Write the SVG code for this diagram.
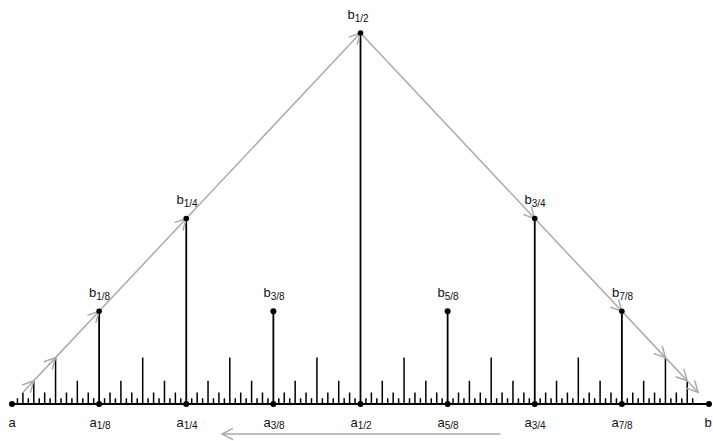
<svg xmlns="http://www.w3.org/2000/svg" width="713" height="441" viewBox="0 0 713 441">
<style>
.bg{fill:#ffffff}
.tick{fill:none;stroke:#000;stroke-width:1.5}
.stem{fill:none;stroke:#000;stroke-width:1.8}
.dot{fill:#000}
.lbl{font-family:"Liberation Sans",Arial,sans-serif;font-size:13px;fill:#111;text-anchor:middle}
.sub{font-size:10px}
.conn{fill:none;stroke:#aaaaaa;stroke-width:1.5}
</style>
<defs>
<marker id="chev" markerUnits="userSpaceOnUse" viewBox="-13 -8 15 16" markerWidth="15" markerHeight="16" refX="0" refY="0" orient="auto" overflow="visible">
<path d="M-11,-5.7 L0,0 L-11,5.7" fill="none" stroke="#aaaaaa" stroke-width="1.5"/>
</marker>
</defs>
<rect class="bg" x="0" y="0" width="713" height="441"/>
<g id="ruler">
<path class="stem" d="M12 404H709"/>
<path class="tick" d="M17.4453 404v-5.8m10.8906 5.8v-5.8m10.8906 5.8v-5.8m10.8906 5.8v-5.8m10.8906 5.8v-5.8m10.8906 5.8v-5.8m10.8906 5.8v-5.8m10.8906 5.8v-5.8m10.8906 5.8v-5.8m10.8906 5.8v-5.8m10.8906 5.8v-5.8m10.8906 5.8v-5.8m10.8906 5.8v-5.8m10.8906 5.8v-5.8m10.8906 5.8v-5.8m10.8906 5.8v-5.8m10.8906 5.8v-5.8m10.8906 5.8v-5.8m10.8906 5.8v-5.8m10.8906 5.8v-5.8m10.8906 5.8v-5.8m10.8906 5.8v-5.8m10.8906 5.8v-5.8m10.8906 5.8v-5.8m10.8906 5.8v-5.8m10.8906 5.8v-5.8m10.8906 5.8v-5.8m10.8906 5.8v-5.8m10.8906 5.8v-5.8m10.8906 5.8v-5.8m10.8906 5.8v-5.8m10.8906 5.8v-5.8m10.8906 5.8v-5.8m10.8906 5.8v-5.8m10.8906 5.8v-5.8m10.8906 5.8v-5.8m10.8906 5.8v-5.8m10.8906 5.8v-5.8m10.8906 5.8v-5.8m10.8906 5.8v-5.8m10.8906 5.8v-5.8m10.8906 5.8v-5.8m10.8906 5.8v-5.8m10.8906 5.8v-5.8m10.8906 5.8v-5.8m10.8906 5.8v-5.8m10.8906 5.8v-5.8m10.8906 5.8v-5.8m10.8906 5.8v-5.8m10.8906 5.8v-5.8m10.8906 5.8v-5.8m10.8906 5.8v-5.8m10.8906 5.8v-5.8m10.8906 5.8v-5.8m10.8906 5.8v-5.8m10.8906 5.8v-5.8m10.8906 5.8v-5.8m10.8906 5.8v-5.8m10.8906 5.8v-5.8m10.8906 5.8v-5.8m10.8906 5.8v-5.8m10.8906 5.8v-5.8m10.8906 5.8v-5.8"/>
<path class="tick" d="M22.8906 404v-11.6m21.7813 11.6v-11.6m21.7813 11.6v-11.6m21.7813 11.6v-11.6m21.7813 11.6v-11.6m21.7813 11.6v-11.6m21.7813 11.6v-11.6m21.7813 11.6v-11.6m21.7813 11.6v-11.6m21.7813 11.6v-11.6m21.7813 11.6v-11.6m21.7813 11.6v-11.6m21.7813 11.6v-11.6m21.7813 11.6v-11.6m21.7813 11.6v-11.6m21.7813 11.6v-11.6m21.7813 11.6v-11.6m21.7813 11.6v-11.6m21.7813 11.6v-11.6m21.7813 11.6v-11.6m21.7813 11.6v-11.6m21.7813 11.6v-11.6m21.7813 11.6v-11.6m21.7813 11.6v-11.6m21.7813 11.6v-11.6m21.7813 11.6v-11.6m21.7813 11.6v-11.6m21.7813 11.6v-11.6m21.7813 11.6v-11.6m21.7813 11.6v-11.6m21.7813 11.6v-11.6"/>
<path class="tick" d="M33.7813 404v-23.19m43.5625 23.19v-23.19m43.5625 23.19v-23.19m43.5625 23.19v-23.19m43.5625 23.19v-23.19m43.5625 23.19v-23.19m43.5625 23.19v-23.19m43.5625 23.19v-23.19m43.5625 23.19v-23.19m43.5625 23.19v-23.19m43.5625 23.19v-23.19m43.5625 23.19v-23.19m43.5625 23.19v-23.19m43.5625 23.19v-23.19m43.5625 23.19v-23.19m43.5625 23.19v-23.19"/>
<path class="tick" d="M55.5625 404v-46.38m87.125 46.38v-46.38m87.125 46.38v-46.38m87.125 46.38v-46.38m87.125 46.38v-46.38m87.125 46.38v-46.38m87.125 46.38v-46.38m87.125 46.38v-46.38"/>
<path class="stem" d="M99.125 404V311.25M273.375 404V311.25M447.625 404V311.25M621.875 404V311.25M186.25 404V218.5M534.75 404V218.5M360.5 404V33"/>
</g>
<g id="connectors">
<polyline class="conn" points="22.89,392.41 33.78,380.81 55.56,357.63 99.13,311.25 186.25,218.5 360.5,33" marker-mid="url(#chev)" marker-end="url(#chev)"/>
<polyline class="conn" points="360.5,33 534.75,218.5 621.88,311.25 665.44,357.63 687.22,380.81 698.11,392.41" marker-mid="url(#chev)" marker-end="url(#chev)"/>
<line class="conn" x1="500.5" y1="434" x2="222" y2="434" marker-end="url(#chev)"/>
</g>
<g id="node-a"><circle class="dot" cx="12" cy="404" r="3"/><text class="lbl" x="12" y="427">a</text></g>
<g id="node-a18"><circle class="dot" cx="99.125" cy="404" r="3"/><text class="lbl" x="100" y="427">a<tspan class="sub" dy="2">1/8</tspan></text></g>
<g id="node-a14"><circle class="dot" cx="186.25" cy="404" r="3"/><text class="lbl" x="187" y="427">a<tspan class="sub" dy="2">1/4</tspan></text></g>
<g id="node-a38"><circle class="dot" cx="273.375" cy="404" r="3"/><text class="lbl" x="274" y="427">a<tspan class="sub" dy="2">3/8</tspan></text></g>
<g id="node-a12"><circle class="dot" cx="360.5" cy="404" r="3"/><text class="lbl" x="361" y="427">a<tspan class="sub" dy="2">1/2</tspan></text></g>
<g id="node-a58"><circle class="dot" cx="447.625" cy="404" r="3"/><text class="lbl" x="448" y="427">a<tspan class="sub" dy="2">5/8</tspan></text></g>
<g id="node-a34"><circle class="dot" cx="534.75" cy="404" r="3"/><text class="lbl" x="535" y="427">a<tspan class="sub" dy="2">3/4</tspan></text></g>
<g id="node-a78"><circle class="dot" cx="621.875" cy="404" r="3"/><text class="lbl" x="622" y="427">a<tspan class="sub" dy="2">7/8</tspan></text></g>
<g id="node-b"><circle class="dot" cx="709" cy="404" r="3"/><text class="lbl" x="708" y="427">b</text></g>
<g id="node-b12"><circle class="dot" cx="360.5" cy="33" r="2.8"/><text class="lbl" x="358" y="19">b<tspan class="sub" dy="2.5">1/2</tspan></text></g>
<g id="node-b14"><circle class="dot" cx="186.25" cy="218.5" r="2.8"/><text class="lbl" x="187" y="204">b<tspan class="sub" dy="2.5">1/4</tspan></text></g>
<g id="node-b34"><circle class="dot" cx="534.75" cy="218.5" r="2.8"/><text class="lbl" x="535" y="204">b<tspan class="sub" dy="2.5">3/4</tspan></text></g>
<g id="node-b18"><circle class="dot" cx="99.125" cy="311.25" r="2.8"/><text class="lbl" x="99.5" y="297">b<tspan class="sub" dy="2.5">1/8</tspan></text></g>
<g id="node-b38"><circle class="dot" cx="273.375" cy="311.25" r="3"/><text class="lbl" x="274" y="297">b<tspan class="sub" dy="2.5">3/8</tspan></text></g>
<g id="node-b58"><circle class="dot" cx="447.625" cy="311.25" r="3"/><text class="lbl" x="448" y="297">b<tspan class="sub" dy="2.5">5/8</tspan></text></g>
<g id="node-b78"><circle class="dot" cx="621.875" cy="311.25" r="2.8"/><text class="lbl" x="622.5" y="297">b<tspan class="sub" dy="2.5">7/8</tspan></text></g>
</svg>
